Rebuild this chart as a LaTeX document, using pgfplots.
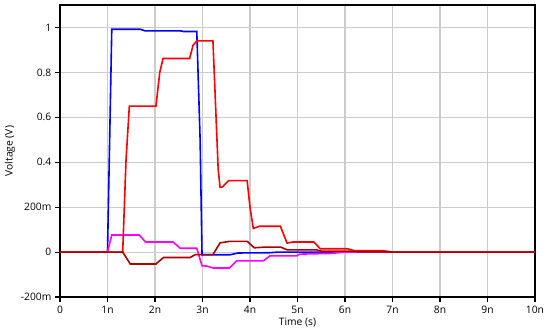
\documentclass[border=0pt]{standalone}
\usepackage{fontspec}
\setmainfont{Open Sans}
\usepackage{pgfplots}
\pgfplotsset{compat=1.18}
\definecolor{darkred}{RGB}{170,0,0}
\definecolor{mag}{RGB}{255,0,255}
\begin{document}
\fontsize{7.7pt}{9pt}\selectfont
\begin{tikzpicture}
\begin{axis}[
  name=main,
  scale only axis,
  width=356.25pt, height=219pt,
  xmin=0, xmax=10, ymin=-0.2, ymax=1.1,
  xtick={0,1,...,10},
  xticklabels={0,1n,2n,3n,4n,5n,6n,7n,8n,9n,10n},
  ytick={-0.2,0,0.2,0.4,0.6,0.8,1},
  yticklabels={-200m,0,200m,0.4,0.6,0.8,1},
  tick align=outside,
  major tick length=3.75pt,
  tick style={black, line width=0.8pt},
  xtick pos=bottom, ytick pos=left,
  grid=major,
  grid style={gray!40, line width=0.8pt},
  axis line style={black, line width=0.8pt},
  every tick label/.append style={font=\fontsize{7.7pt}{9pt}\selectfont},
  /pgf/number format/assume math mode=true,
  xlabel={Time (s)},
  ylabel={Voltage (V)},
  every axis x label/.style={at={(axis description cs:0.5,0)}, anchor=center, yshift=-19.3pt},
  every axis y label/.style={at={(axis description cs:0,0.5)}, xshift=-37.5pt, rotate=90, anchor=center},
  clip=true,
]
\addplot[blue, line width=1.2pt] coordinates {
(0,0)(1.0,0)(1.09,0.992)(1.69,0.992)(1.79,0.985)(2.53,0.985)(2.6,0.982)(2.88,0.982)(2.95,0.5)(2.99,-0.012)(3.58,-0.012)(3.75,-0.004)(4.4,-0.003)(4.6,0)(10,0)};
\addplot[mag, line width=1.2pt] coordinates {
(0,0)(1.0,0)(1.09,0.076)(1.67,0.076)(1.8,0.045)(2.38,0.045)(2.53,0.017)(2.88,0.017)(2.99,-0.061)(3.08,-0.062)(3.23,-0.071)(3.57,-0.071)(3.72,-0.039)(4.28,-0.039)(4.42,-0.017)(4.98,-0.017)(5.05,-0.009)(5.7,-0.006)(6.0,0)(10,0)};
\addplot[red, line width=1.2pt] coordinates {
(0,0)(1.32,0)(1.39,0.41)(1.46,0.65)(2.02,0.65)(2.10,0.80)(2.17,0.862)(2.73,0.862)(2.80,0.92)(2.88,0.94)(3.22,0.94)(3.33,0.37)(3.37,0.288)(3.42,0.29)(3.55,0.318)(3.94,0.318)(4.0,0.20)(4.07,0.105)(4.2,0.115)(4.64,0.115)(4.78,0.04)(4.9,0.045)(5.34,0.045)(5.48,0.015)(6.05,0.015)(6.2,0.006)(6.8,0.006)(7.0,0)(10,0)};
\addplot[darkred, line width=1.2pt] coordinates {
(0,0)(1.32,0)(1.48,-0.053)(2.02,-0.053)(2.18,-0.024)(2.74,-0.024)(2.85,-0.011)(3.22,-0.011)(3.37,0.041)(3.58,0.048)(3.94,0.048)(4.09,0.019)(4.3,0.022)(4.65,0.022)(4.78,0.01)(5.4,0.01)(5.5,0.004)(6.1,0.004)(6.3,0.001)(6.9,0.001)(7,0)(10,0)};
\end{axis}
\pgfresetboundingbox
\path[use as bounding box] ([xshift=-45pt,yshift=-27pt]main.south west) rectangle ([xshift=11.25pt,yshift=3.75pt]main.north east);
\end{tikzpicture}
\end{document}
